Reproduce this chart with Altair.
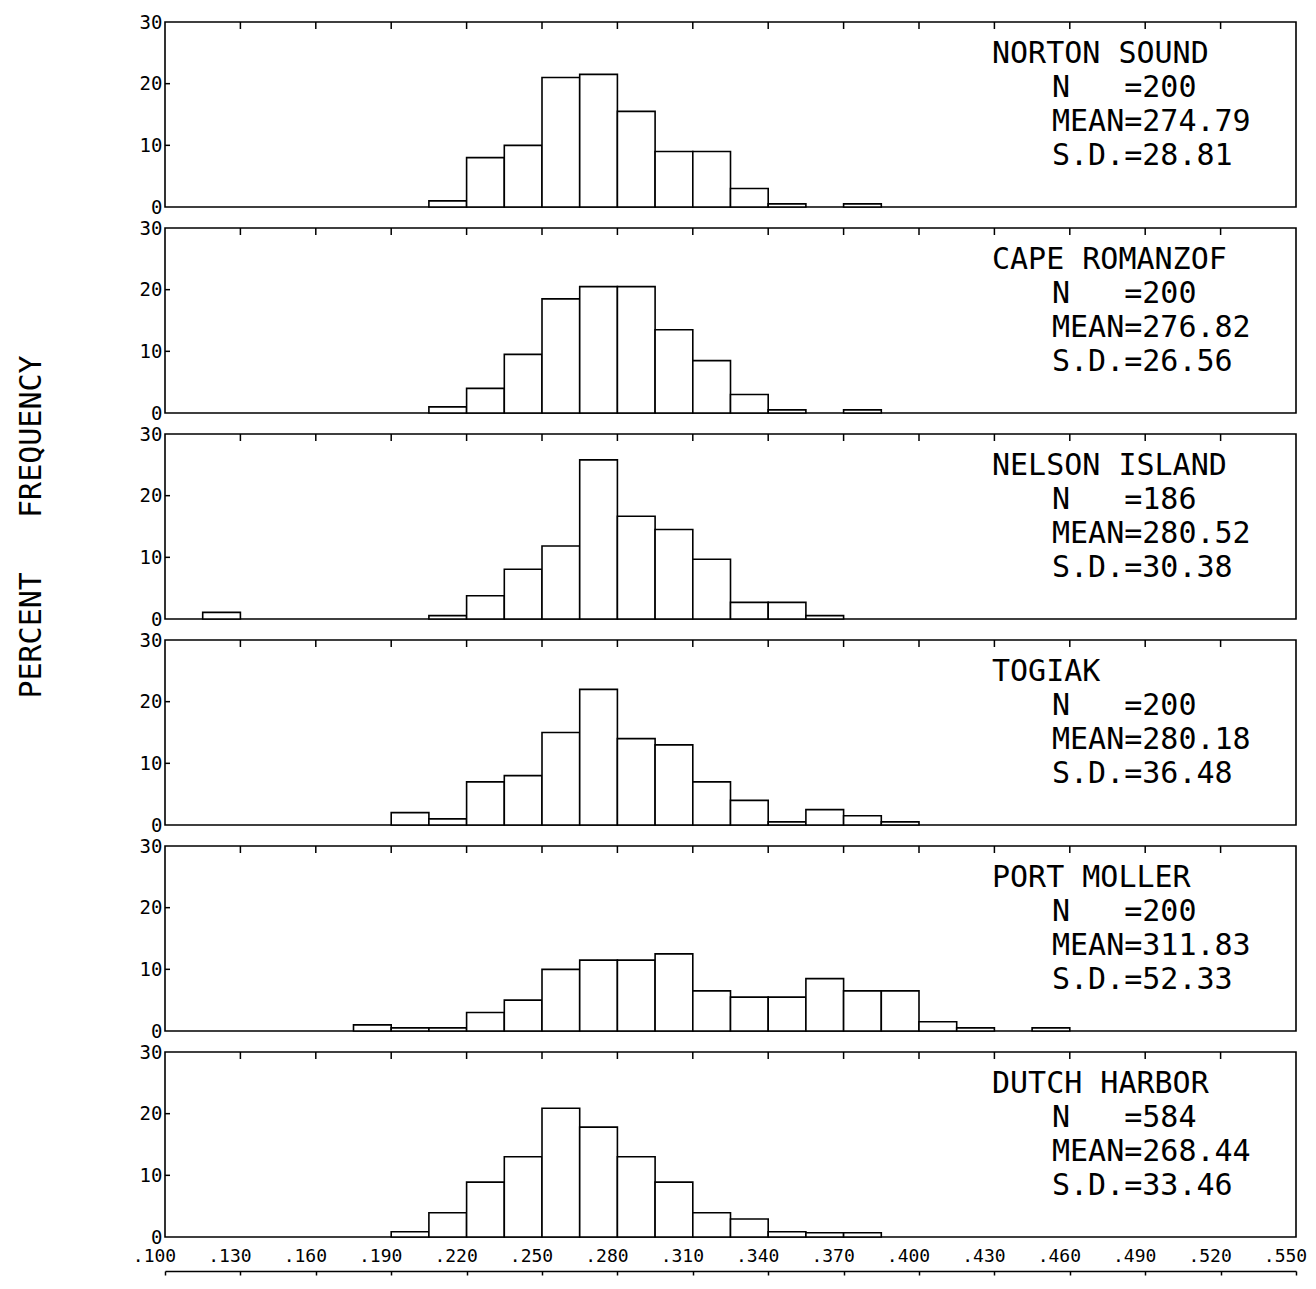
import altair as alt
import pandas as pd

# ---------------- data ----------------
BIN_LO = [0.100, 0.115, 0.130, 0.145, 0.160, 0.175, 0.190, 0.205, 0.220, 0.235,
          0.250, 0.265, 0.280, 0.295, 0.310, 0.325, 0.340, 0.355, 0.370, 0.385,
          0.400, 0.415, 0.430, 0.445, 0.460, 0.475, 0.490, 0.505, 0.520, 0.535]
BIN_HI = [0.115, 0.130, 0.145, 0.160, 0.175, 0.190, 0.205, 0.220, 0.235, 0.250,
          0.265, 0.280, 0.295, 0.310, 0.325, 0.340, 0.355, 0.370, 0.385, 0.400,
          0.415, 0.430, 0.445, 0.460, 0.475, 0.490, 0.505, 0.520, 0.535, 0.550]

X_TICKS = [0.100, 0.130, 0.160, 0.190, 0.220, 0.250, 0.280, 0.310,
           0.340, 0.370, 0.400, 0.430, 0.460, 0.490, 0.520, 0.550]
Y_TICKS = [0, 10, 20, 30]

STATIONS = ["NORTON SOUND", "CAPE ROMANZOF", "NELSON ISLAND",
            "TOGIAK", "PORT MOLLER", "DUTCH HARBOR"]
N_OBS = ["200", "200", "186", "200", "200", "584"]
MEANS = ["274.79", "276.82", "280.52", "280.18", "311.83", "268.44"]
SDS = ["28.81", "26.56", "30.38", "36.48", "52.33", "33.46"]

# percent frequency per bin (aligned with BIN_LO)
NORTON_SOUND = [0, 0, 0, 0, 0, 0, 0, 1, 8, 10,
                21, 21.5, 15.5, 9, 9, 3, 0.5, 0, 0.5, 0,
                0, 0, 0, 0, 0, 0, 0, 0, 0, 0]
CAPE_ROMANZOF = [0, 0, 0, 0, 0, 0, 0, 1, 4, 9.5,
                 18.5, 20.5, 20.5, 13.5, 8.5, 3, 0.5, 0, 0.5, 0,
                 0, 0, 0, 0, 0, 0, 0, 0, 0, 0]
NELSON_ISLAND = [0, 1.08, 0, 0, 0, 0, 0, 0.54, 3.76, 8.06,
                 11.83, 25.81, 16.67, 14.52, 9.68, 2.69, 2.69, 0.54, 0, 0,
                 0, 0, 0, 0, 0, 0, 0, 0, 0, 0]
TOGIAK = [0, 0, 0, 0, 0, 0, 2, 1, 7, 8,
          15, 22, 14, 13, 7, 4, 0.5, 2.5, 1.5, 0.5,
          0, 0, 0, 0, 0, 0, 0, 0, 0, 0]
PORT_MOLLER = [0, 0, 0, 0, 0, 1, 0.5, 0.5, 3, 5,
               10, 11.5, 11.5, 12.5, 6.5, 5.5, 5.5, 8.5, 6.5, 6.5,
               1.5, 0.5, 0, 0.5, 0, 0, 0, 0, 0, 0]
DUTCH_HARBOR = [0, 0, 0, 0, 0, 0, 0.86, 3.94, 8.9, 13.01,
                20.89, 17.81, 13.01, 8.9, 3.94, 2.91, 0.86, 0.68, 0.68, 0,
                0, 0, 0, 0, 0, 0, 0, 0, 0, 0]
PCTS = [NORTON_SOUND, CAPE_ROMANZOF, NELSON_ISLAND, TOGIAK, PORT_MOLLER, DUTCH_HARBOR]

# ---------------- style ----------------
FONT = "DejaVu Sans Mono"
W, H = 1131, 185
NB = "\u00a0"

xscale = alt.Scale(domain=[0.1, 0.55], nice=False, zero=False)
yscale = alt.Scale(domain=[0, 30], nice=False, zero=True)


def make_panel(k):
    df = pd.DataFrame({"lo": BIN_LO, "hi": BIN_HI, "pct": PCTS[k]})
    df = df[df["pct"] > 0]
    last = k == len(STATIONS) - 1

    if last:
        xaxis = alt.Axis(values=X_TICKS, orient="bottom", offset=34,
                         labelExpr="substring(format(datum.value, '.3f'), 1)",
                         domain=True, domainColor="black", domainWidth=1.5,
                         ticks=True, tickColor="black", tickWidth=1.5, tickSize=4,
                         labelPadding=-19, labelBaseline="middle",
                         labelFont=FONT, labelFontSize=18, labelColor="black",
                         labelOffset=-11, labelOverlap=False, labelFlush=False,
                         grid=False, title=None)
    else:
        xaxis = None

    ykw = dict(values=Y_TICKS, orient="left", domain=False, ticks=False,
               labelFont=FONT, labelFontSize=19, labelColor="black",
               labelPadding=3, grid=False)
    if k == 2:
        ykw.update(title="PERCENT" + NB * 3 + "FREQUENCY", titleFont=FONT,
                   titleFontSize=30, titleFontWeight="normal", titleColor="black",
                   titlePadding=93)
    else:
        ykw.update(title=None)
    yaxis = alt.Axis(**ykw)

    bars = alt.Chart(df).mark_rect(fill="white", stroke="black", strokeWidth=1.6).encode(
        x=alt.X("lo:Q", scale=xscale, axis=xaxis),
        x2="hi:Q",
        y=alt.Y("pct:Q", scale=yscale, axis=yaxis),
        y2=alt.datum(0),
    )

    xt = alt.Chart(pd.DataFrame({"lo": X_TICKS[1:-1]})).mark_rule(
        color="black", strokeWidth=1.5).encode(
        x=alt.X("lo:Q", scale=xscale, axis=xaxis),
        y=alt.value(0), y2=alt.value(7))

    yt = alt.Chart(pd.DataFrame({"pct": Y_TICKS[1:-1]})).mark_rule(
        color="black", strokeWidth=1.5).encode(
        y=alt.Y("pct:Q", scale=yscale, axis=yaxis),
        x=alt.value(0), x2=alt.value(5))

    name = alt.Chart(pd.DataFrame({"name": [STATIONS[k]]})).mark_text(
        align="left", baseline="alphabetic", font=FONT, fontSize=30,
        color="black").encode(x=alt.value(827), y=alt.value(41), text="name:N")

    info_text = ("N" + NB * 3 + "=" + N_OBS[k] + "\n" +
                 "MEAN=" + MEANS[k] + "\n" +
                 "S.D.=" + SDS[k])
    info = alt.Chart(pd.DataFrame({"info": [info_text]})).mark_text(
        align="left", baseline="alphabetic", font=FONT, fontSize=30,
        lineBreak="\n", lineHeight=34, color="black").encode(
        x=alt.value(887), y=alt.value(75), text="info:N")

    return alt.layer(bars, xt, yt, name, info).properties(width=W, height=H)


chart = alt.vconcat(*[make_panel(k) for k in range(len(STATIONS))],
                    spacing=21, bounds="flush").properties(
    padding={"left": 7, "top": 4, "right": 0, "bottom": 0},
    background="white",
).configure_view(stroke="black", strokeWidth=1.6)

chart.save("out.html", embed_options={"renderer": "svg", "actions": False})
